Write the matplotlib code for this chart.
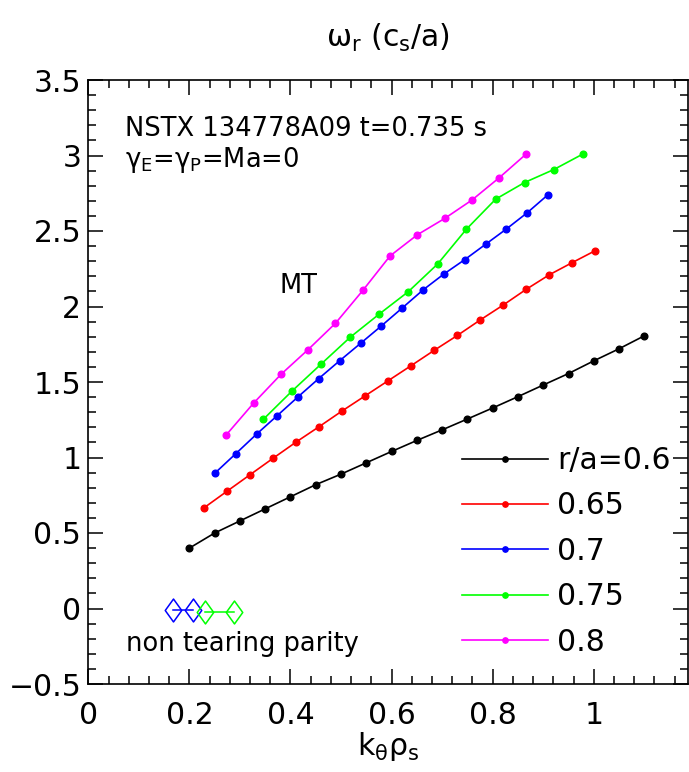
import numpy as np
import matplotlib
matplotlib.use('Agg')
import matplotlib.pyplot as plt
from matplotlib.path import Path
from matplotlib.ticker import MultipleLocator, FuncFormatter

plt.rcParams['font.family'] = ['DejaVu Sans']
plt.rcParams['mathtext.fontset'] = 'dejavusans'

# ---- data ----
labels = ['r/a=0.6', '0.65', '0.7', '0.75', '0.8']
colors = ['black', 'red', 'blue', '#00ff00', 'magenta']

k_06 = [0.20, 0.25, 0.30, 0.35, 0.40, 0.45, 0.50, 0.55, 0.60, 0.65,
        0.70, 0.75, 0.80, 0.85, 0.90, 0.95, 1.00, 1.05, 1.10]
w_06 = [0.40, 0.50, 0.58, 0.66, 0.74, 0.82, 0.89, 0.965, 1.04, 1.113,
        1.183, 1.255, 1.328, 1.403, 1.48, 1.556, 1.64, 1.72, 1.806]

k_065 = [0.229, 0.275, 0.320, 0.366, 0.411, 0.457, 0.502, 0.548, 0.593,
         0.639, 0.684, 0.730, 0.775, 0.821, 0.866, 0.912, 0.957, 1.003]
w_065 = [0.667, 0.778, 0.886, 0.996, 1.102, 1.205, 1.308, 1.409, 1.508,
         1.609, 1.709, 1.808, 1.910, 2.010, 2.113, 2.21, 2.29, 2.37]

k_07 = [0.251, 0.292, 0.333, 0.374, 0.415, 0.456, 0.497, 0.539, 0.580,
        0.621, 0.662, 0.703, 0.745, 0.786, 0.827, 0.868, 0.909]
w_07 = [0.898, 1.026, 1.155, 1.278, 1.402, 1.523, 1.640, 1.757, 1.872,
        1.990, 2.109, 2.214, 2.311, 2.412, 2.513, 2.620, 2.739]

k_075 = [0.346, 0.403, 0.461, 0.518, 0.576, 0.633, 0.691, 0.748, 0.806,
         0.863, 0.921, 0.978]
w_075 = [1.252, 1.44, 1.62, 1.796, 1.951, 2.098, 2.281, 2.512, 2.711,
         2.821, 2.907, 3.009]

k_08 = [0.273, 0.327, 0.381, 0.435, 0.489, 0.543, 0.597, 0.651, 0.705,
        0.759, 0.813, 0.866]
w_08 = [1.150, 1.360, 1.550, 1.715, 1.889, 2.106, 2.335, 2.475, 2.583,
        2.705, 2.853, 3.009]

# non tearing parity modes
k_nt_07 = [0.168, 0.208]
w_nt_07 = [-0.01, -0.01]
k_nt_075 = [0.230, 0.289]
w_nt_075 = [-0.02, -0.02]

series = [(k_06, w_06), (k_065, w_065), (k_07, w_07), (k_075, w_075), (k_08, w_08)]

fig = plt.figure(figsize=(6.89, 7.72), dpi=100)
ax = fig.add_axes([88.3 / 689, 88 / 772, 600 / 689, 604 / 772])

for (k, w), c, lab in zip(series, colors, labels):
    ax.plot(k, w, '-o', color=c, lw=1.2, ms=4.8, label=lab)

# tall open diamond
diamond = Path([(0, 1), (0.72, 0), (0, -1), (-0.72, 0), (0, 1)],
               [Path.MOVETO, Path.LINETO, Path.LINETO, Path.LINETO, Path.CLOSEPOLY])
ax.plot(k_nt_07, w_nt_07, '-', color='blue', lw=1.1, marker=diamond, ms=16.5,
        mfc='none', mec='blue', mew=1.1)
ax.plot(k_nt_075, w_nt_075, '-', color='#00ff00', lw=1.1, marker=diamond, ms=16.5,
        mfc='none', mec='#00ff00', mew=1.1)

ax.set_xlim(0, 1.187)
ax.set_ylim(-0.5, 3.5)

ax.xaxis.set_major_locator(MultipleLocator(0.2))
ax.xaxis.set_minor_locator(MultipleLocator(0.04))
ax.yaxis.set_major_locator(MultipleLocator(0.5))
ax.yaxis.set_minor_locator(MultipleLocator(0.1))


def fmt(v, pos):
    s = '%g' % round(v, 3)
    return s.replace('-', '\u2212')


ax.xaxis.set_major_formatter(FuncFormatter(fmt))
ax.yaxis.set_major_formatter(FuncFormatter(fmt))
ax.tick_params(which='both', direction='in', top=True, right=True, width=1.1)
ax.tick_params(which='major', length=11, labelsize=21.5)
ax.tick_params(which='minor', length=6)
ax.tick_params(axis='x', which='major', pad=12)
ax.tick_params(axis='y', which='major', pad=5)
for sp in ax.spines.values():
    sp.set_linewidth(1.2)

ax.text(0.0726, 3.13, 'NSTX 134778A09 t=0.735 s', fontsize=18.5, va='baseline')
ax.text(0.0726, 2.922, r'$\mathregular{\gamma_E}$=$\mathregular{\gamma_P}$=Ma=0',
        fontsize=18.5, va='baseline')
ax.text(0.415, 2.137, 'MT', fontsize=18.5, ha='center', va='center')
ax.text(0.075, -0.28, 'non tearing parity', fontsize=18.5, va='baseline')

fig.text(388 / 689, 1 - 47 / 772, r'$\mathregular{\omega_r\ (c_s/a)}$', fontsize=21.5,
         ha='center', va='baseline')
ax.set_xlabel(r'$\mathregular{k_\theta\rho_s}$', fontsize=21.5, labelpad=0)

ax.legend(loc='upper left', bbox_to_anchor=(0.622, 0.394), frameon=False,
          fontsize=21.5, handlelength=2.88, handletextpad=0.32, labelspacing=0.55,
          borderpad=0, borderaxespad=0, numpoints=1, markerscale=0.8)

fig.savefig('out.png', dpi=100)
